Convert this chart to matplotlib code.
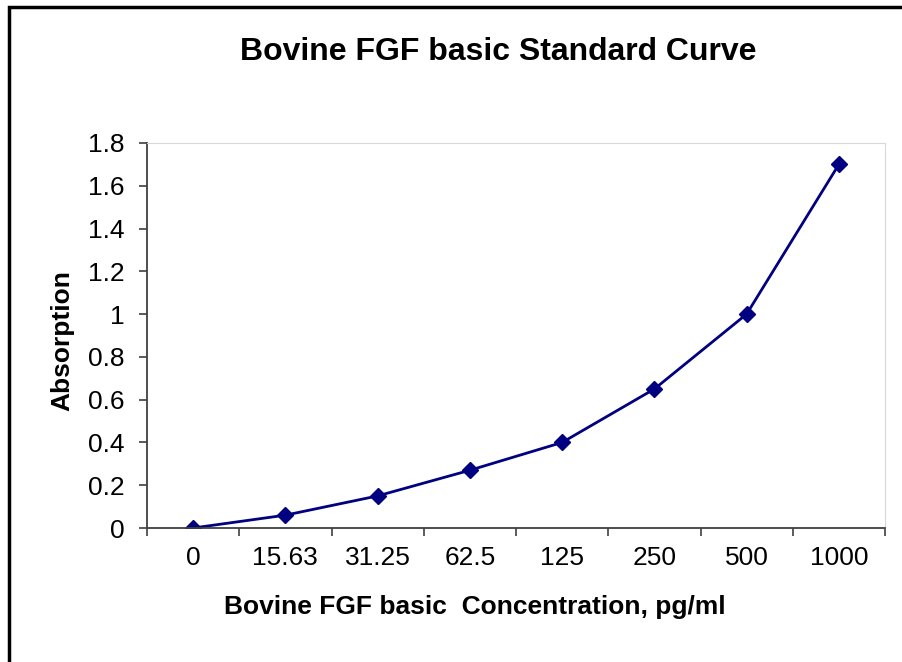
import matplotlib.pyplot as plt
from matplotlib.patches import Rectangle

plt.rcParams['font.family'] = ['Liberation Sans', 'DejaVu Sans']

konzentration = ['0', '15.63', '31.25', '62.5', '125', '250', '500', '1000']
absorption = [0, 0.06, 0.15, 0.27, 0.40, 0.65, 1.0, 1.70]

fig = plt.figure(figsize=(9.02, 6.62), dpi=100)
ax = fig.add_axes([147 / 902, 1 - 528 / 662, 738 / 902, 385 / 662])

# Rahmen um die Grafik (rechts und unten abgeschnitten)
fig.patches.append(Rectangle((9 / 902, -0.1), 1.2, 1 - 7 / 662 + 0.1,
                             transform=fig.transFigure, fill=False,
                             edgecolor='black', linewidth=2.5))

x = list(range(len(konzentration)))
ax.plot(x, absorption, color='#000080', linewidth=2, marker='D',
        markersize=8, markerfacecolor='#000080', markeredgecolor='#000080')

ax.set_xlim(-0.5, len(konzentration) - 0.5)
ax.set_ylim(0, 1.8)
ax.set_yticks([0, 0.2, 0.4, 0.6, 0.8, 1.0, 1.2, 1.4, 1.6, 1.8])
ax.set_yticklabels(['0', '0.2', '0.4', '0.6', '0.8', '1', '1.2', '1.4', '1.6', '1.8'])
ax.set_xticks(x)
ax.set_xticklabels(konzentration)
ax.set_xticks([i - 0.5 for i in range(len(konzentration) + 1)], minor=True)
ax.tick_params(axis='x', which='major', length=0, labelsize=19, pad=13)
ax.tick_params(axis='x', which='minor', length=6, width=1.2, color='#404040')
ax.tick_params(axis='y', length=6, width=1.2, color='#404040', labelsize=19, pad=10)

for s in ['top', 'right']:
    ax.spines[s].set_color('#d8d8d8')
for s in ['left', 'bottom']:
    ax.spines[s].set_color('#404040')
    ax.spines[s].set_linewidth(1.3)

# Achsentitel in Pixelposition wie im Original
fig.text(475 / 902, 1 - 607 / 662, 'Bovine FGF basic  Concentration, pg/ml',
         fontsize=19, fontweight='bold', ha='center', va='center')
fig.text(62 / 902, 1 - 341 / 662, 'Absorption', fontsize=19, fontweight='bold',
         ha='center', va='center', rotation=90)
fig.text(498 / 902, 1 - 52 / 662, 'Bovine FGF basic Standard Curve',
         fontsize=23, fontweight='bold', ha='center', va='center')

fig.savefig('out.png', dpi=100)
